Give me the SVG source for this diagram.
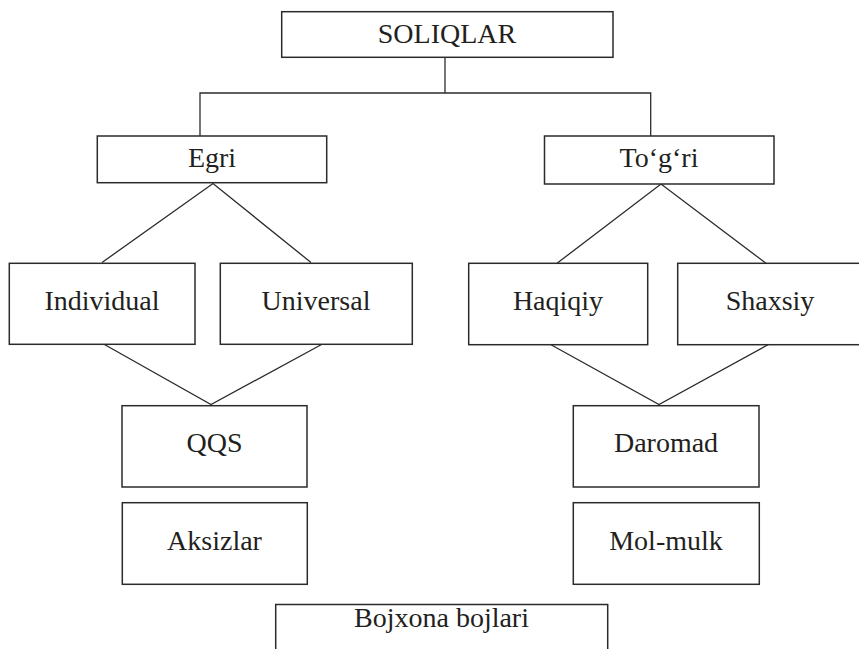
<svg xmlns="http://www.w3.org/2000/svg" width="859" height="649" viewBox="0 0 859 649">
<style>
.box{fill:#fff;stroke:#2b2b2b;stroke-width:1.5}
.lbl{font-family:"Liberation Serif","Times New Roman",serif;font-size:28px;fill:#231f20;text-anchor:middle}
.con{fill:none;stroke:#2b2b2b;stroke-width:1.3}
</style>
<rect width="859" height="649" fill="#fff"/>
<g id="connectors">
<polyline class="con" points="445,57.3 445,93"/>
<polyline class="con" points="200,136 200,93 650.7,93 650.7,136"/>
<polyline class="con" points="102,262.5 213,183.5 311,262.5"/>
<polyline class="con" points="104,344.3 211,404.5 322,344.3"/>
<polyline class="con" points="557,263.3 661,184 766,263.3"/>
<polyline class="con" points="551,344.7 659,404.5 768,344.7"/>
</g>
<g id="soliqlar"><rect class="box" x="281.7" y="11.7" width="331.3" height="45.6"/><text class="lbl" x="447" y="43">SOLIQLAR</text></g>
<g id="egri"><rect class="box" x="97.3" y="136" width="229.4" height="46.7"/><text class="lbl" x="212" y="167">Egri</text></g>
<g id="togri"><rect class="box" x="544.5" y="136" width="229.5" height="48"/><text class="lbl" x="659" y="167">To‘g‘ri</text></g>
<g id="individual"><rect class="box" x="9.3" y="263.3" width="185.7" height="81"/><text class="lbl" x="102" y="310">Individual</text></g>
<g id="universal"><rect class="box" x="220.3" y="263.3" width="192" height="81"/><text class="lbl" x="316" y="310">Universal</text></g>
<g id="haqiqiy"><rect class="box" x="468.7" y="263.3" width="179" height="81.4"/><text class="lbl" x="558" y="310">Haqiqiy</text></g>
<g id="shaxsiy"><rect class="box" x="677.7" y="263.3" width="185" height="81.4"/><text class="lbl" x="770" y="310">Shaxsiy</text></g>
<g id="qqs"><rect class="box" x="122" y="405.7" width="185" height="81.3"/><text class="lbl" x="214.5" y="452">QQS</text></g>
<g id="daromad"><rect class="box" x="573.3" y="405.7" width="185.7" height="81.3"/><text class="lbl" x="666" y="452">Daromad</text></g>
<g id="aksizlar"><rect class="box" x="122.3" y="502.7" width="185" height="81.6"/><text class="lbl" x="214.5" y="550">Aksizlar</text></g>
<g id="molmulk"><rect class="box" x="573.3" y="502.7" width="186" height="81.6"/><text class="lbl" x="666" y="550">Mol-mulk</text></g>
<g id="bojxona"><rect class="box" x="275.7" y="604.5" width="332" height="60"/><text class="lbl" x="441.5" y="627">Bojxona bojlari</text></g>
</svg>
